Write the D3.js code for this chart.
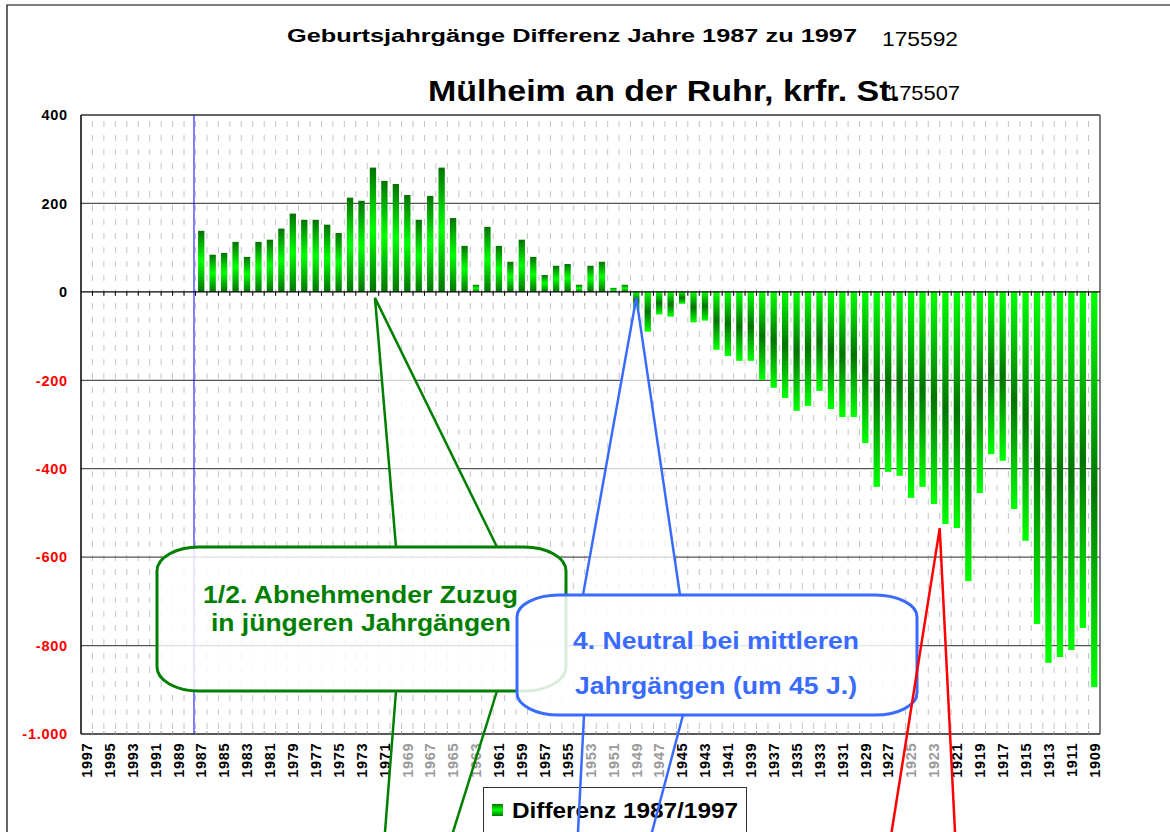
<!DOCTYPE html>
<html><head><meta charset="utf-8">
<script src="https://cdn.jsdelivr.net/npm/d3@7"></script>
<style>
body{margin:0;background:#fff}
svg{display:block}
text{font-family:Arial,"Liberation Sans",sans-serif}
</style>
</head><body>
<svg id="c" width="1170" height="832"></svg>
<script>
// ---------- data ----------
const years = [1997,1996,1995,1994,1993,1992,1991,1990,1989,1988,
  1987,1986,1985,1984,1983,1982,1981,1980,1979,1978,
  1977,1976,1975,1974,1973,1972,1971,1970,1969,1968,
  1967,1966,1965,1964,1963,1962,1961,1960,1959,1958,
  1957,1956,1955,1954,1953,1952,1951,1950,1949,1948,
  1947,1946,1945,1944,1943,1942,1941,1940,1939,1938,
  1937,1936,1935,1934,1933,1932,1931,1930,1929,1928,
  1927,1926,1925,1924,1923,1922,1921,1920,1919,1918,
  1917,1916,1915,1914,1913,1912,1911,1910,1909];
const diff = [null,null,null,null,null,null,null,null,null,null,
  138,84,88,113,79,113,118,143,177,163,
  163,152,133,213,206,281,251,244,219,163,
  217,281,167,104,16,147,104,68,118,79,
  38,59,63,16,59,68,9,16,-40,-90,
  -51,-56,-27,-69,-65,-131,-145,-156,-156,-199,
  -217,-240,-269,-258,-224,-265,-283,-283,-342,-441,
  -407,-416,-466,-441,-480,-525,-534,-654,-455,-367,
  -382,-491,-563,-751,-839,-826,-810,-760,-894];
const xTickYears = [1997,1995,1993,1991,1989,1987,1985,1983,1981,1979,1977,1975,1973,1971,
  1969,1967,1965,1963,1961,1959,1957,1955,1953,1951,1949,1947,1945,1943,1941,1939,1937,
  1935,1933,1931,1929,1927,1925,1923,1921,1919,1917,1915,1913,1911,1909];
const coveredTickYears = [1969,1967,1965,1963,1953,1951,1949,1947,1925,1923];
const yTicks = [400,200,0,-200,-400,-600,-800,-1000];
const titleTop = "Geburtsjahrgänge Differenz Jahre 1987 zu 1997";
const titleCity = "Mülheim an der Ruhr, krfr. St.";
const popNumbers = ["175592","175507"];
const seriesName = "Differenz 1987/1997";
const noteGreen = ["1/2. Abnehmender Zuzug","in jüngeren Jahrgängen"];
const noteBlue = ["4. Neutral bei mittleren","Jahrgängen (um 45 J.)"];

// ---------- setup ----------
const svg = d3.select("#c");
const L=81,R=1100,T=115,B=734;
const x = d3.scaleBand().domain(years).range([L,R]).paddingInner(0.45).paddingOuter(0.225);
const y = d3.scaleLinear().domain([-1000,400]).range([B,T]);
const step = x.step(), bw = x.bandwidth();
const boundary = yr => x(yr) - step*x.paddingInner()/2;
const center = yr => x(yr) + bw/2;
const de = d3.formatLocale({decimal:",",thousands:".",grouping:[3],currency:["","€"],minus:"-"});
const fmt = de.format(",d");

const defs = svg.append("defs");
function grad(id, stops){
  const g = defs.append("linearGradient").attr("id",id).attr("x1",0).attr("y1",0).attr("x2",0).attr("y2",1);
  stops.forEach(s=>g.append("stop").attr("offset",s[0]).attr("stop-color",s[1]));
}
grad("gPos",[[0,"#007400"],[0.5,"#00ff00"],[1,"#007400"]]);
grad("gNeg",[[0,"#00ff00"],[0.5,"#007400"],[1,"#00ff00"]]);
grad("gLeg",[[0,"#007400"],[0.5,"#00ff00"],[1,"#007400"]]);

// outer frame
svg.append("path").attr("d","M7,840V5H1175").attr("fill","none").attr("stroke","#000").attr("stroke-width",1.2);

// vertical dashed gridlines
const g = svg.append("g");
g.selectAll("line").data(years.slice(1)).join("line")
  .attr("x1",d=>boundary(d)).attr("x2",d=>boundary(d))
  .attr("y1",T+6).attr("y2",B)
  .attr("stroke","#c4c4c4").attr("stroke-width",1).attr("stroke-dasharray","6,8");

// horizontal gridlines
svg.append("g").selectAll("line").data(yTicks.filter(v=>v!==400&&v!==-1000&&v!==0)).join("line")
  .attr("x1",L).attr("x2",R).attr("y1",d=>y(d)).attr("y2",d=>y(d))
  .attr("stroke","#555").attr("stroke-width",1.2);

// bars
svg.append("g").selectAll("rect").data(years.map((yr,i)=>({yr,v:diff[i]})).filter(d=>d.v!==null)).join("rect")
  .attr("x",d=>x(d.yr)).attr("width",bw)
  .attr("y",d=>y(Math.max(0,d.v))).attr("height",d=>Math.abs(y(d.v)-y(0)))
  .attr("fill",d=>d.v>=0?"url(#gPos)":"url(#gNeg)");

// plot border
svg.append("line").attr("x1",L).attr("x2",R).attr("y1",T).attr("y2",T).attr("stroke","#333").attr("stroke-width",1.5);
svg.append("line").attr("x1",R).attr("x2",R).attr("y1",T).attr("y2",B).attr("stroke","#555").attr("stroke-width",1.5);
svg.append("line").attr("x1",L).attr("x2",L).attr("y1",T).attr("y2",B).attr("stroke","#000").attr("stroke-width",1.5);
svg.append("line").attr("x1",L).attr("x2",R).attr("y1",B).attr("y2",B).attr("stroke","#222").attr("stroke-width",1.5);

// zero axis with ticks
svg.append("line").attr("x1",L).attr("x2",R).attr("y1",y(0)).attr("y2",y(0)).attr("stroke","#000").attr("stroke-width",1.3);
svg.append("g").selectAll("line").data(years.slice(1)).join("line")
  .attr("x1",d=>boundary(d)).attr("x2",d=>boundary(d)).attr("y1",y(0)).attr("y2",y(0)+4)
  .attr("stroke","#000").attr("stroke-width",1);
svg.append("g").selectAll("line").data(years.slice(1)).join("line")
  .attr("x1",d=>boundary(d)).attr("x2",d=>boundary(d)).attr("y1",B-3).attr("y2",B)
  .attr("stroke","#999").attr("stroke-width",1);

// blue marker line (start of data)
svg.append("line").attr("x1",boundary(1987)-1.5).attr("x2",boundary(1987)-1.5).attr("y1",T).attr("y2",B)
  .attr("stroke","#0000ff").attr("stroke-width",1);

// y labels
svg.append("g").selectAll("text").data(yTicks).join("text")
  .attr("x",67.7).attr("y",d=>y(d)).attr("dy","0.36em").attr("text-anchor","end")
  .attr("font-size",14.5).attr("font-weight","bold").attr("letter-spacing",0.7)
  .attr("fill",d=>d<0?"#ff0000":"#000").text(d=>fmt(d));

// x labels
svg.append("g").selectAll("text").data(xTickYears).join("text")
  .attr("transform",d=>`translate(${center(d)},${742.7}) rotate(-90)`)
  .attr("dy","0.36em").attr("text-anchor","end")
  .attr("font-size",14.5).attr("font-weight","bold").attr("letter-spacing",0.7)
  .attr("fill",d=>coveredTickYears.includes(d)?"#9a9a9a":"#000").text(d=>d);

// titles
svg.append("text").attr("x",287).attr("y",42).attr("font-size",18).attr("font-weight","bold")
  .attr("textLength",570).attr("lengthAdjust","spacingAndGlyphs").text(titleTop);
svg.append("text").attr("x",882).attr("y",46).attr("font-size",21)
  .attr("textLength",76).attr("lengthAdjust","spacingAndGlyphs").text(popNumbers[0]);
svg.append("text").attr("x",428).attr("y",101).attr("font-size",29).attr("font-weight","bold")
  .attr("textLength",472).attr("lengthAdjust","spacingAndGlyphs").text(titleCity);
svg.append("text").attr("x",887).attr("y",100).attr("font-size",21)
  .attr("textLength",73).attr("lengthAdjust","spacingAndGlyphs").text(popNumbers[1]);

// legend
const lg = svg.append("g");
lg.append("rect").attr("x",483.5).attr("y",787.5).attr("width",263).attr("height",60)
  .attr("fill","#fff").attr("stroke","#333").attr("stroke-width",1);
lg.append("rect").attr("x",492).attr("y",804).attr("width",11).attr("height",12).attr("fill","url(#gLeg)");
lg.append("text").attr("x",512).attr("y",818).attr("font-size",22).attr("font-weight","bold")
  .attr("textLength",226).attr("lengthAdjust","spacingAndGlyphs").text(seriesName);

// ---------- callouts ----------
function boxPath(x0,y0,x1,y1,rx,ry){
  return `M${x0+rx},${y0}H${x1-rx}A${rx},${ry} 0 0 1 ${x1},${y0+ry}V${y1-ry}A${rx},${ry} 0 0 1 ${x1-rx},${y1}H${x0+rx}A${rx},${ry} 0 0 1 ${x0},${y1-ry}V${y0+ry}A${rx},${ry} 0 0 1 ${x0+rx},${y0}Z`;
}
function extend(p,q,yEnd){
  const t=(yEnd-p[1])/(q[1]-p[1]); return [p[0]+(q[0]-p[0])*t,yEnd];
}
const cg = svg.append("g");
// green
const gCol="#007f00";
const tipG=[center(1972)+2, y(0)+6];
cg.append("path").attr("d",`M396,548L${tipG}L497,548Z`).attr("fill","#fff").attr("fill-opacity",0.75).attr("stroke","none");
cg.append("path").attr("d",boxPath(157,547,566,691,42,24)).attr("fill","#fff").attr("fill-opacity",0.82)
  .attr("stroke",gCol).attr("stroke-width",3);
cg.append("path").attr("d",`M396,547L${tipG}L497,547`).attr("fill","none").attr("stroke",gCol).attr("stroke-width",2.5);
noteGreen.forEach((t,i)=>cg.append("text").attr("x",i?211:203).attr("y",i?631:603)
  .attr("font-size",24).attr("font-weight","bold").attr("fill",gCol)
  .attr("textLength",i?300:315).attr("lengthAdjust","spacingAndGlyphs").text(t));
// blue
const bCol="#3a6bff";
const tipB=[center(1949), y(0)+6];
cg.append("path").attr("d",`M583,596L${tipB}L680,596Z`).attr("fill","#fff").attr("fill-opacity",0.75).attr("stroke","none");
cg.append("path").attr("d",boxPath(517,595,917,715,42,22)).attr("fill","#fff").attr("fill-opacity",0.85)
  .attr("stroke",bCol).attr("stroke-width",3);
cg.append("path").attr("d",`M583,595L${tipB}L680,595`).attr("fill","none").attr("stroke",bCol).attr("stroke-width",2.5);
noteBlue.forEach((t,i)=>cg.append("text").attr("x",i?575:573).attr("y",i?694:649)
  .attr("font-size",24).attr("font-weight","bold").attr("fill",bCol)
  .attr("textLength",i?282:286).attr("lengthAdjust","spacingAndGlyphs").text(t));

// lower pointer lines (callouts below the visible area)
const low = [
  [[396,691],[385,832],gCol],[[497,691],[453,832],gCol],
  [[584,715],[578,832],bCol],[[683,715],[652,832],bCol]
];
low.forEach(l=>{ const e=extend(l[0],l[1],845);
  svg.append("line").attr("x1",l[0][0]).attr("y1",l[0][1]).attr("x2",e[0]).attr("y2",e[1])
    .attr("stroke",l[2]).attr("stroke-width",2.5);});
// red
const tipR=[boundary(1922), y(-535)];
[[891.6,832],[955,832]].forEach(p=>{ const e=extend(tipR,p,845);
  svg.append("line").attr("x1",tipR[0]).attr("y1",tipR[1]).attr("x2",e[0]).attr("y2",e[1])
    .attr("stroke","#ff0000").attr("stroke-width",2.5);});
</script>
</body></html>
